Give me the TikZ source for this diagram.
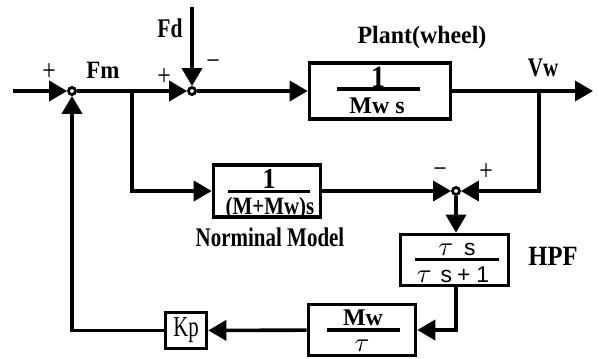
\documentclass[tikz,border=0pt]{standalone}
\usepackage{graphicx}
\usepackage{fontspec}
\setmainfont{Liberation Serif}
\newfontfamily\sansf{Liberation Sans}
\usetikzlibrary{arrows.meta}
\newcommand\fs[1]{\fontsize{#1}{#1}\selectfont}
\newcommand\sx[2]{\scalebox{#1}[1]{#2}}
\newcommand\mytau{{\fs{10}\scalebox{2.7}{$\tau$}}}
\begin{document}
\begin{tikzpicture}[x=1bp,y=-1bp,
  line width=3.6bp,
  >={Triangle[length=18bp,width=20bp]},
  sumc/.style={circle,draw,fill=white,line width=2.8bp,minimum size=7bp,inner sep=0pt},
  blk/.style={draw,rectangle,inner sep=0pt},
  lbl/.style={inner sep=0pt,font=\bfseries},
  sgn/.style={inner sep=0pt,font=\fs{30}},
  frac/.style={inner sep=0pt,anchor=base},
  rulel/.style={line width=3.2bp}]
\useasboundingbox (0,0) rectangle (599,358);
% summing points
\node[sumc] (s1) at (72,91) {};
\node[sumc] (s2) at (192,91) {};
\node[sumc] (s3) at (456,191) {};
% blocks
\node[blk,minimum width=141bp,minimum height=56bp] (plant) at (380,91) {};
\node[blk,minimum width=107bp,minimum height=52bp] (nom) at (267,191) {};
\node[blk,minimum width=108bp,minimum height=51bp] (hpf) at (454.5,260) {};
\node[blk,minimum width=107bp,minimum height=51bp] (mwt) at (362,330) {};
\node[blk,minimum width=41bp,minimum height=36bp,font=\fs{29}] (kp) at (186,330.5) {\sx{0.72}{Kp}};
% fraction contents
\node[frac,font=\bfseries\fs{31}] (pn) at (378,87) {\sx{0.9}{1}};
\draw[rulel] (337,89) -- (420,89);
\node[frac,font=\bfseries\fs{24}] (pd) at (377,113) {Mw s};
\node[frac,font=\bfseries\fs{29}] (nn) at (269,188) {\sx{0.9}{1}};
\draw[rulel] (228,191.5) -- (310,191.5);
\node[frac,font=\bfseries\fs{25}] (nd) at (270,214) {\sx{0.84}{(M+Mw)s}};
\node[frac,font=\sansf\fs{23}] (hn) at (457,255) {\mytau\hspace{11bp}s};
\draw[rulel] (415,259.5) -- (499,259.5);
\node[frac,font=\sansf\fs{23}] (hd) at (453,282) {\mytau\hspace{9bp}s\hspace{5bp}+\hspace{6bp}1};
\node[frac,font=\bfseries\fs{24}] (mn) at (363,325) {Mw};
\draw[rulel] (327,330) -- (400,330);
\node[frac] (md) at (362,351) {\mytau};
% labels
\node[sgn] (p1) at (49,72) {\sx{0.8}{+}};
\node[lbl,font=\bfseries\fs{25}] (fm) at (103,70) {\sx{0.92}{Fm}};
\node[sgn] (p2) at (164,77) {\sx{0.8}{+}};
\node[sgn] (m2) at (213,65) {\sx{0.8}{−}};
\node[lbl,font=\bfseries\fs{27}] (fd) at (170,28) {\sx{0.8}{Fd}};
\node[lbl,font=\bfseries\fs{25}] (pl) at (422,38) {\sx{0.96}{Plant(wheel)}};
\node[lbl,font=\bfseries\fs{27}] (vw) at (543,68) {\sx{0.78}{Vw}};
\node[sgn] (m3) at (440,173) {\sx{0.8}{−}};
\node[sgn] (p3) at (486,172) {\sx{0.8}{+}};
\node[lbl,font=\bfseries\fs{27}] (nml) at (270,237) {\sx{0.78}{Norminal Model}};
\node[lbl,font=\bfseries\fs{28}] (hpfl) at (553,256) {\sx{0.88}{HPF}};
% coordinates
\coordinate (in) at (13,91);
\coordinate (fdtop) at (192,7);
\coordinate (out) at (593,91);
\coordinate (b1) at (132,91);
\coordinate (b2) at (539,91);
% connectors
\draw[->] (in) -- (s1);
\draw[->] (s1) -- (s2);
\draw[->] (fdtop) -- (s2);
\draw[->] (s2) -- (plant);
\draw[->] (plant) -- (out);
\draw[->] (b1) |- (nom);
\draw[->] (b2) |- (s3);
\draw[->] (nom) -- (s3);
\draw[->] (s3) -- (s3 |- hpf.north);
\draw[->] (hpf.south -| s3) |- (mwt);
\draw[->] (mwt) -- (kp);
\draw[->] (kp) -| (s1);
\end{tikzpicture}
\end{document}
